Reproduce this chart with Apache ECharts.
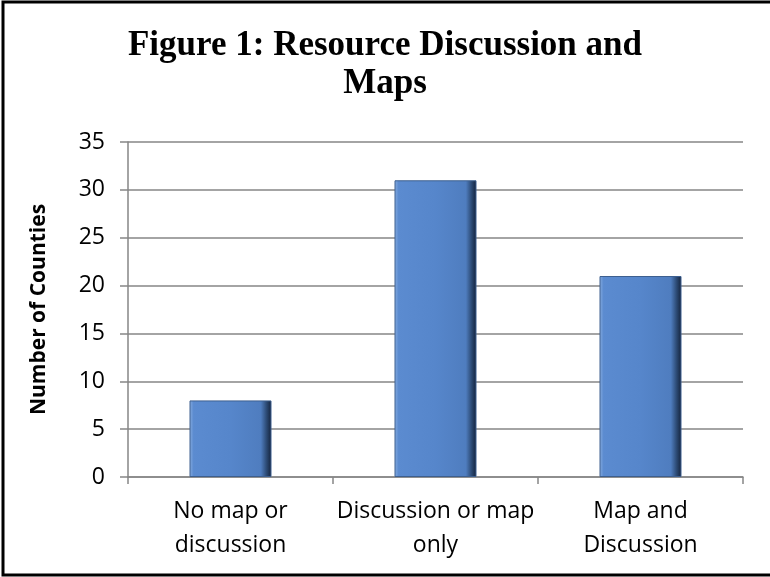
<!DOCTYPE html>
<html>
<head>
<meta charset="utf-8">
<script src="https://cdn.jsdelivr.net/npm/echarts@6/dist/echarts.min.js"></script>
<style>
	html, body { margin: 0; padding: 0; background: #fff; }
	#chart { width: 770px; height: 577px; }
</style>
</head>
<body>
<div id="chart"></div>
<script>
// Chart data
var categories = ['No map or\ndiscussion', 'Discussion or map\nonly', 'Map and\nDiscussion']
var counties = [8, 31, 21]
var yTicks = [0, 5, 10, 15, 20, 25, 30, 35]

var chart = echarts.init(document.getElementById('chart'))

// Excel-style bevelled bar fill
var barFill = new echarts.graphic.LinearGradient(0, 0, 1, 0, [
	{ offset: 0, color: '#86acdf' },
	{ offset: 0.05, color: '#5b8bd0' },
	{ offset: 0.5, color: '#5686cb' },
	{ offset: 0.87, color: '#4f7dbf' },
	{ offset: 0.94, color: '#2c4a74' },
	{ offset: 1, color: '#13213a' },
])

var option = {
	animation: false,
	title: {
		text: 'Figure 1: Resource Discussion and\nMaps',
		left: 'center',
		top: 22,
		textStyle: {
			fontFamily: 'Liberation Serif',
			fontWeight: 'bold',
			fontSize: 35,
			lineHeight: 38,
			color: '#000',
		},
	},
	graphic: [
		{
			type: 'rect',
			shape: { x: 3, y: 2, width: 800, height: 573 },
			style: { fill: 'none', stroke: '#000', lineWidth: 3 },
			silent: true,
		},
	],
	grid: {
		left: 128,
		right: 27,
		top: 142,
		bottom: 100,
	},
	xAxis: {
		type: 'category',
		data: categories,
		axisLine: { lineStyle: { color: '#868686', width: 1.5 } },
		axisTick: { show: true, length: 7, lineStyle: { color: '#868686', width: 1.5 } },
		axisLabel: {
			interval: 0,
			margin: 17,
			fontFamily: 'Open Sans',
			fontSize: 23,
			lineHeight: 34,
			color: '#000',
		},
	},
	yAxis: {
		type: 'value',
		min: yTicks[0],
		max: yTicks[yTicks.length - 1],
		interval: 5,
		name: 'Number of Counties',
		nameLocation: 'middle',
		nameGap: 78,
		nameTextStyle: {
			fontFamily: 'Open Sans',
			fontWeight: 'bold',
			fontSize: 21,
			color: '#000',
		},
		axisLine: { show: true, lineStyle: { color: '#868686', width: 1.5 } },
		axisTick: { show: true, length: 8, lineStyle: { color: '#868686', width: 1.5 } },
		axisLabel: {
			margin: 23,
			fontFamily: 'Open Sans',
			fontSize: 23,
			color: '#000',
		},
		splitLine: { lineStyle: { color: '#868686', width: 1.5 } },
	},
	series: [
		{
			type: 'bar',
			data: counties,
			barWidth: '40%',
			itemStyle: {
				color: barFill,
				borderColor: '#3d5f8f',
				borderWidth: 1,
			},
		},
	],
}

chart.setOption(option)
</script>
</body>
</html>
